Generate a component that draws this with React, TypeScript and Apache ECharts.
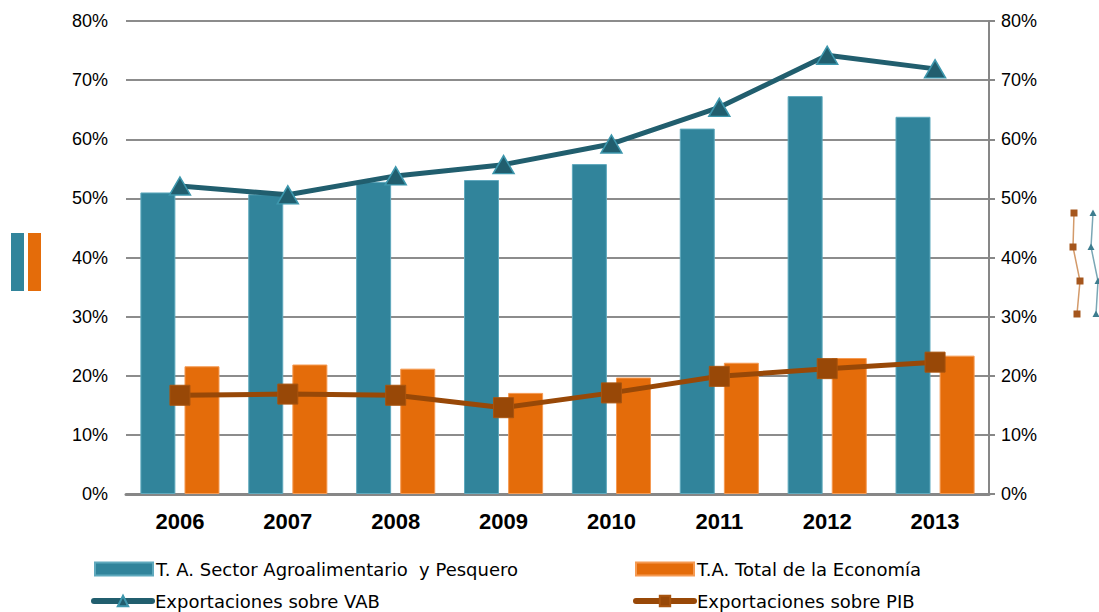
import React, { useEffect, useRef } from "react";
import * as echarts from "echarts";

const years = ["2006", "2007", "2008", "2009", "2010", "2011", "2012", "2013"];
const sectorTA = [51.0, 50.7, 52.8, 53.1, 55.8, 61.8, 67.3, 63.8];
const totalTA = [21.6, 21.9, 21.2, 17.1, 19.7, 22.2, 23.0, 23.4];
const vabExports = [52.1, 50.6, 53.8, 55.7, 59.2, 65.4, 74.2, 71.9];
const pibExports = [16.7, 16.9, 16.7, 14.6, 17.1, 19.9, 21.2, 22.3];
const yTicks = [0, 10, 20, 30, 40, 50, 60, 70, 80];

const NAMES = [
  "T. A. Sector Agroalimentario  y Pesquero",
  "T.A. Total de la Economía",
  "Exportaciones sobre VAB",
  "Exportaciones sobre PIB",
];

export default function App() {
  const ref = useRef<HTMLDivElement>(null);
  useEffect(() => {
    if (!ref.current) return;
    const chart = echarts.init(ref.current, null, { renderer: "svg" });
    const font = "Liberation Sans, Arial, sans-serif";
    const legendFont = "DejaVu Sans, Liberation Sans, sans-serif";
    const legendBase = {
      itemWidth: 58,
      itemHeight: 13,
      itemGap: 0,
      padding: 0,
      textStyle: { fontFamily: legendFont, fontSize: 18, color: "#000", padding: [0, 0, 0, -2] },
      selectedMode: false,
    };
    const yAxisBase = {
      type: "value",
      min: yTicks[0],
      max: yTicks[yTicks.length - 1],
      interval: 10,
      axisLabel: {
        formatter: (v: number) => v + "%",
        fontFamily: font,
        fontSize: 18,
        color: "#000",
      },
    };
    chart.setOption({
      animation: false,
      backgroundColor: "#fff",
      grid: { left: 126, right: 110, top: 21, bottom: 118 },
      legend: [
        { ...legendBase, left: 94, top: 560, icon: "rect", data: [NAMES[0]] },
        { ...legendBase, left: 635, top: 560, icon: "rect", data: [NAMES[1]] },
        { ...legendBase, left: 91, top: 592, lineStyle: { width: 6, cap: "round" }, data: [NAMES[2]] },
        { ...legendBase, left: 633, top: 592, lineStyle: { width: 6, cap: "round" }, data: [NAMES[3]] },
      ],
      xAxis: {
        type: "category",
        data: years,
        axisLine: { lineStyle: { color: "#878787", width: 3 } },
        axisTick: { show: false },
        axisLabel: {
          fontFamily: font,
          fontSize: 22,
          fontWeight: "bold",
          color: "#000",
          margin: 16,
        },
      },
      yAxis: [
        {
          ...yAxisBase,
          position: "left",
          axisLine: { show: false },
          axisTick: { show: false },
          axisLabel: { ...yAxisBase.axisLabel, margin: 18 },
          splitLine: { lineStyle: { color: "#8c8c8c", width: 2 } },
        },
        {
          ...yAxisBase,
          position: "right",
          axisLine: { show: true, lineStyle: { color: "#878787", width: 2 } },
          axisTick: { show: true, length: 6, lineStyle: { color: "#878787", width: 2 } },
          axisLabel: { ...yAxisBase.axisLabel, margin: 12 },
          splitLine: { show: false },
        },
      ],
      series: [
        {
          name: NAMES[0],
          type: "bar",
          data: sectorTA,
          barWidth: 35,
          barGap: "26%",
          itemStyle: { color: "#31849b", borderColor: "#5fa9bd", borderWidth: 1 },
          z: 2,
        },
        {
          name: NAMES[1],
          type: "bar",
          data: totalTA,
          barWidth: 35,
          itemStyle: { color: "#e46c0a", borderColor: "#f59a52", borderWidth: 1 },
          z: 2,
        },
        {
          name: NAMES[2],
          type: "line",
          data: vabExports,
          symbol: "triangle",
          symbolSize: [21, 18],
          lineStyle: { color: "#215e6e", width: 5, cap: "round" },
          itemStyle: { color: "#215e6e", borderColor: "#3d97ad", borderWidth: 1.5 },
          z: 4,
        },
        {
          name: NAMES[3],
          type: "line",
          data: pibExports,
          symbol: "rect",
          symbolSize: 20,
          lineStyle: { color: "#984807", width: 5, cap: "round" },
          itemStyle: { color: "#984807", borderColor: "#a8540f", borderWidth: 1 },
          z: 4,
        },
      ],
      graphic: [
        { type: "rect", shape: { x: 11, y: 233, width: 13, height: 58 }, style: { fill: "#31849b" } },
        { type: "rect", shape: { x: 28, y: 233, width: 13, height: 58 }, style: { fill: "#e46c0a" } },
        {
          type: "polyline",
          shape: { points: [[1074, 213], [1073, 247], [1080, 281], [1077, 314]] },
          style: { stroke: "#d39a6a", lineWidth: 1.5, fill: "none" },
        },
        {
          type: "polyline",
          shape: { points: [[1093, 213], [1091, 247], [1098, 281], [1096, 314]] },
          style: { stroke: "#7aa7b5", lineWidth: 1.5, fill: "none" },
        },
        ...[[1074, 213], [1073, 247], [1080, 281], [1077, 314]].map((p) => ({
          type: "rect",
          shape: { x: p[0] - 3.5, y: p[1] - 3.5, width: 7, height: 7 },
          style: { fill: "#a5561d" },
        })),
        ...[[1093, 213], [1091, 247], [1098, 281], [1096, 314]].map((p) => ({
          type: "polygon",
          shape: { points: [[p[0], p[1] - 3.5], [p[0] + 3.5, p[1] + 3], [p[0] - 3.5, p[1] + 3]] },
          style: { fill: "#3e7d8f" },
        })),
      ],
    });
    return () => chart.dispose();
  }, []);
  return <div ref={ref} style={{ width: 1099, height: 612, position: "absolute", left: 0, top: 0 }} />;
}
